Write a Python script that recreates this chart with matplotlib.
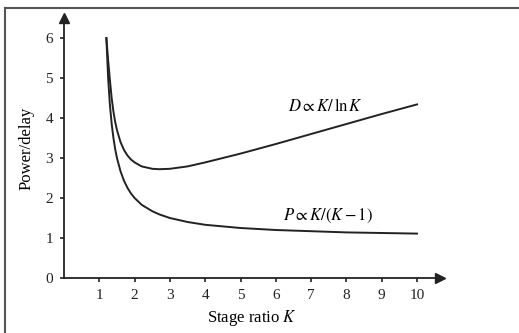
import matplotlib
matplotlib.use("Agg")
import matplotlib.pyplot as plt
from matplotlib.lines import Line2D

K = [1.2, 1.25, 1.3, 1.35, 1.4, 1.45, 1.5, 1.6, 1.7, 1.8, 1.9, 2.0, 2.2, 2.5, 2.7,
     3.0, 3.5, 4.0, 5.0, 6.0, 7.0, 8.0, 9.0, 10.0]
D = [6.0, 5.45, 4.95, 4.50, 4.16, 3.90, 3.70, 3.40, 3.20, 3.06, 2.96, 2.89, 2.79, 2.73, 2.72,
     2.73, 2.79, 2.89, 3.11, 3.35, 3.60, 3.85, 4.10, 4.34]
P = [6.0, 5.0, 4.33, 3.86, 3.5, 3.22, 3.0, 2.67, 2.43, 2.25, 2.11, 2.0, 1.83, 1.67, 1.59,
     1.5, 1.4, 1.33, 1.25, 1.2, 1.17, 1.14, 1.125, 1.11]
xticks = [1, 2, 3, 4, 5, 6, 7, 8, 9, 10]
yticks = [0, 1, 2, 3, 4, 5, 6]

plt.rcParams['font.family'] = ['Liberation Serif', 'DejaVu Serif']
plt.rcParams['mathtext.fontset'] = 'stix'

fig = plt.figure(figsize=(5.19, 3.33), dpi=100)
# image frame: top and left edges only
fig.add_artist(Line2D([5/519, 1.0], [1 - 7.5/333, 1 - 7.5/333], transform=fig.transFigure,
                      color='#555555', lw=1.5))
fig.add_artist(Line2D([5/519, 5/519], [0, 1 - 7.5/333], transform=fig.transFigure,
                      color='#555555', lw=1.5))
ax = fig.add_axes([64/519, 55/333, 376/519, 260/333])
ax.plot(K, D, color='#222222', lw=1.4)
ax.plot(K, P, color='#222222', lw=1.4)
ax.set_xlim(0, 10.65)
ax.set_ylim(0, 6.5)
ax.set_xticks(xticks)
ax.set_yticks(yticks)
ax.tick_params(direction='out', length=3, width=1.2, labelsize=11, colors='#222222', pad=5)
for s in ['top', 'right']:
    ax.spines[s].set_visible(False)
for s in ['left', 'bottom']:
    ax.spines[s].set_color('#222222')
    ax.spines[s].set_linewidth(1.3)
ax.plot(1, 0, '>', color='#222222', ms=7, transform=ax.transAxes, clip_on=False)
ax.plot(0, 1, '^', color='#222222', ms=7, transform=ax.transAxes, clip_on=False)
ax.set_ylabel('Power/delay', fontsize=12, labelpad=8)
ax.set_xlabel('Stage ratio $K$', fontsize=12, labelpad=4)
ax.text(6.35, 4.3, r'$D \propto K/\,\ln K$', fontsize=12, va='center')
ax.text(6.2, 1.55, r'$P \propto K/(K-1)$', fontsize=12, va='center')
fig.savefig('out.png', dpi=100)
